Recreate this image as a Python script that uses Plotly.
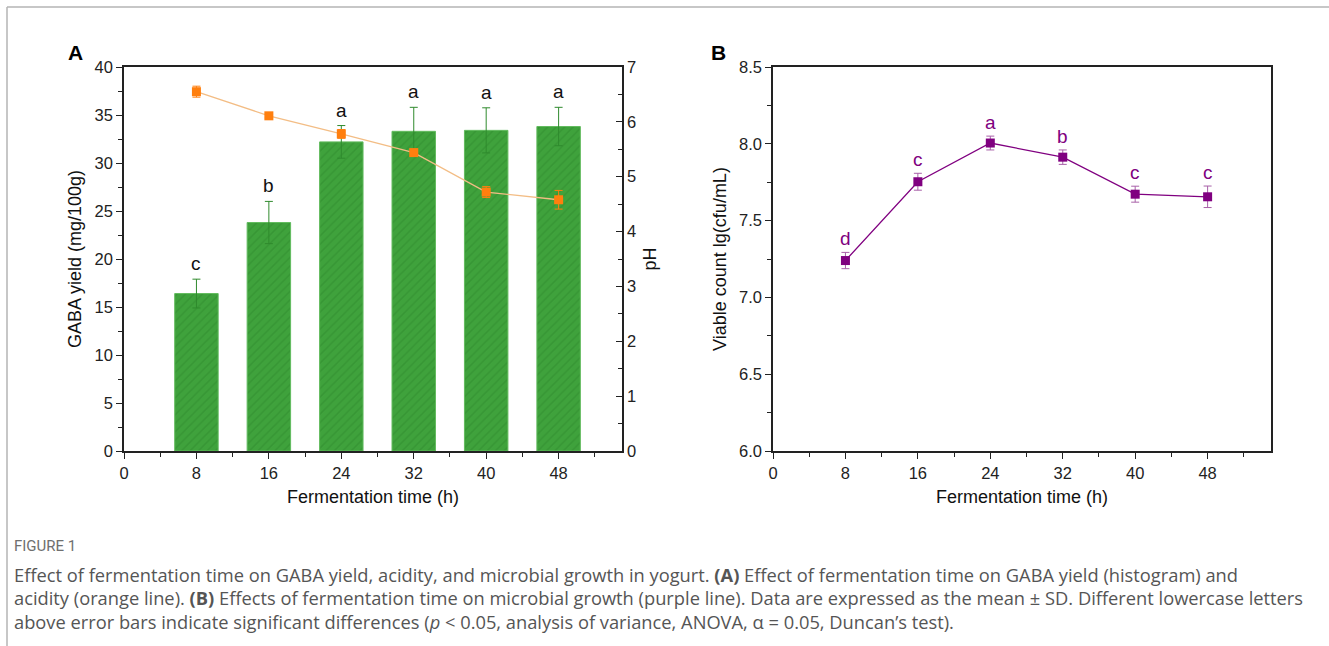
import plotly.graph_objects as go

# ---------------- data ----------------
times = [8, 16, 24, 32, 40, 48]
gaba_yield = [16.4, 23.8, 32.2, 33.3, 33.4, 33.8]
gaba_sd = [1.5, 2.2, 1.7, 2.5, 2.35, 2.0]
gaba_letters = ["c", "b", "a", "a", "a", "a"]

ph_values = [6.55, 6.11, 5.78, 5.44, 4.72, 4.58]
ph_sd = [0.1, 0.04, 0.08, 0.05, 0.1, 0.17]

viable_count = [7.24, 7.753, 8.005, 7.913, 7.672, 7.655]
viable_sd = [0.053, 0.055, 0.045, 0.047, 0.052, 0.07]
viable_letters = ["d", "c", "a", "b", "c", "c"]

x_ticks = [0, 8, 16, 24, 32, 40, 48]

W, H = 1329, 646
def px(x):
    return x / W
def py(y):
    return (H - y) / H

FONT = "Liberation Sans, Arial, sans-serif"
TICKFONT = dict(family=FONT, size=16.5, color="#222222")
TITLEFONT = dict(family=FONT, size=18, color="#111111")
GREEN = "#3fa23c"
ORANGE = "#ff7f0e"
PURPLE = "#800080"

fig = go.Figure()

# Panel A: bars
fig.add_trace(go.Bar(
    x=times, y=gaba_yield, width=4.8,
    marker=dict(color=GREEN, line=dict(color="#62bb5e", width=1),
                pattern=dict(shape="/", fgcolor="#2f8a2d", bgcolor=GREEN,
                             size=6, solidity=0.25)),
    error_y=dict(type="data", array=gaba_sd, color="#2f8a2d", thickness=1, width=4),
    xaxis="x", yaxis="y", showlegend=False,
))

# Panel A: pH line
fig.add_trace(go.Scatter(
    x=times, y=ph_values, mode="lines+markers",
    line=dict(color="#f3bd85", width=1.3),
    marker=dict(symbol="square", size=9, color=ORANGE),
    error_y=dict(type="data", array=ph_sd, color=ORANGE, thickness=1, width=4),
    xaxis="x", yaxis="y2", showlegend=False,
))

# Panel B: viable count
fig.add_trace(go.Scatter(
    x=times, y=viable_count, mode="lines+markers",
    line=dict(color=PURPLE, width=1.3),
    marker=dict(symbol="square", size=9, color=PURPLE),
    error_y=dict(type="data", array=viable_sd, color="#a860a8", thickness=1, width=4),
    xaxis="x3", yaxis="y3", showlegend=False,
))

annotations = []
for t, v, e, l in zip(times, gaba_yield, gaba_sd, gaba_letters):
    annotations.append(dict(x=t, y=v + e, xref="x", yref="y", text=l, showarrow=False,
                            xanchor="center", yanchor="bottom", yshift=3,
                            font=dict(family=FONT, size=19, color="#111111")))
for t, v, e, l in zip(times, viable_count, viable_sd, viable_letters):
    annotations.append(dict(x=t, y=v + e, xref="x3", yref="y3", text=l, showarrow=False,
                            xanchor="center", yanchor="bottom", yshift=1,
                            font=dict(family=FONT, size=19, color=PURPLE)))

# panel labels
annotations.append(dict(x=px(75), y=py(53), xref="paper", yref="paper", text="<b>A</b>",
                        xanchor="center", yanchor="middle",
                        showarrow=False, font=dict(family=FONT, size=21, color="#000")))
annotations.append(dict(x=px(719), y=py(53), xref="paper", yref="paper", text="<b>B</b>",
                        xanchor="center", yanchor="middle",
                        showarrow=False, font=dict(family=FONT, size=21, color="#000")))

# caption
CAPFONT = "Open Sans, Roboto, sans-serif"
annotations.append(dict(x=px(12), y=py(546), xref="paper", yref="paper", text="FIGURE 1",
                        xanchor="left", yanchor="middle", showarrow=False,
                        font=dict(family="Roboto, sans-serif", size=15, color="#6f6f6f")))
caption_lines = [
    "Effect of fermentation time on GABA yield, acidity, and microbial growth in yogurt. <b>(A)</b> Effect of fermentation time on GABA yield (histogram) and",
    "acidity (orange line). <b>(B)</b> Effects of fermentation time on microbial growth (purple line). Data are expressed as the mean ± SD. Different lowercase letters",
    "above error bars indicate significant differences (<i>p</i> < 0.05, analysis of variance, ANOVA, α = 0.05, Duncan’s test).",
]
for i, line in enumerate(caption_lines):
    annotations.append(dict(x=px(12), y=py(574 + 23.5 * i), xref="paper", yref="paper",
                            text=line, xanchor="left", yanchor="middle", showarrow=False,
                            font=dict(family=CAPFONT, size=18.3, color="#555555")))

axis_common = dict(showline=True, linecolor="#222222", linewidth=1.5, ticks="outside",
                   ticklen=6, tickwidth=1.3, tickcolor="#222222", showgrid=False,
                   zeroline=False, tickfont=TICKFONT)

xdom_a = [px(124), px(622)]
xdom_b = [px(773), px(1271)]
ydom = [py(451), py(67)]

fig.update_layout(
    width=W, height=H, margin=dict(l=0, r=0, t=0, b=0, autoexpand=False),
    paper_bgcolor="white", plot_bgcolor="white",
    barmode="overlay",
    xaxis=dict(domain=xdom_a, anchor="y", range=[0, 55], tickvals=x_ticks, mirror=True,
               minor=dict(dtick=4, tick0=0, ticklen=4, tickwidth=1.2, tickcolor="#222222", ticks="outside"),
               title=dict(text="Fermentation time (h)", font=TITLEFONT, standoff=10),
               **axis_common),
    yaxis=dict(domain=ydom, anchor="x", range=[0, 40], dtick=5,
               minor=dict(dtick=2.5, ticklen=4, tickwidth=1.2, tickcolor="#222222", ticks="outside"),
               title=dict(text="GABA yield (mg/100g)", font=TITLEFONT, standoff=8),
               **axis_common),
    yaxis2=dict(overlaying="y", anchor="x", side="right", range=[0, 7], dtick=1,
                showline=True, linecolor="#222222", linewidth=1.5, ticks="inside",
                ticklen=6, tickwidth=1.3, tickcolor="#222222", showgrid=False, zeroline=False,
                tickfont=TICKFONT,
                minor=dict(dtick=0.5, ticklen=4, tickwidth=1.2, tickcolor="#222222", ticks="inside"),
                title=dict(text="pH", font=TITLEFONT, standoff=8)),
    xaxis3=dict(domain=xdom_b, anchor="y3", range=[0, 55], tickvals=x_ticks, mirror=True,
                minor=dict(dtick=4, tick0=0, ticklen=4, tickwidth=1.2, tickcolor="#222222", ticks="outside"),
                title=dict(text="Fermentation time (h)", font=TITLEFONT, standoff=10),
                **axis_common),
    yaxis3=dict(domain=ydom, anchor="x3", range=[6.0, 8.5], dtick=0.5, tickformat=".1f",
                mirror=True,
                minor=dict(dtick=0.25, ticklen=4, tickwidth=1.2, tickcolor="#222222", ticks="outside"),
                title=dict(text="Viable count lg(cfu/mL)", font=TITLEFONT, standoff=8),
                **axis_common),
    annotations=annotations,
    shapes=[
        dict(type="line", xref="paper", yref="paper", x0=px(7), x1=1, y0=py(7), y1=py(7),
             line=dict(color="#b5b5b5", width=1.5)),
        dict(type="line", xref="paper", yref="paper", x0=px(7), x1=px(7), y0=0, y1=py(7),
             line=dict(color="#b5b5b5", width=1.5)),
    ],
)

fig.write_html("out.html")
